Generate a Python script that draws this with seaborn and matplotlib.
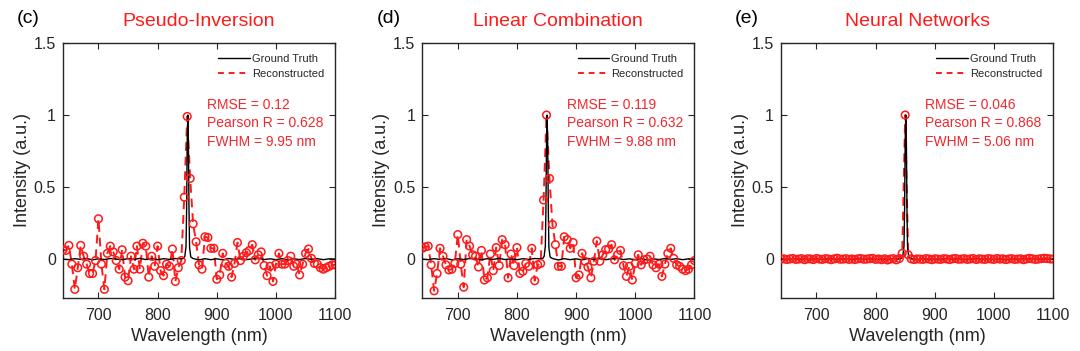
import numpy as np
import pandas as pd
import matplotlib
matplotlib.use('Agg')
import matplotlib.pyplot as plt
import seaborn as sns
from matplotlib.lines import Line2D

sns.set_style('ticks')
plt.rcParams['font.family'] = ['Liberation Sans', 'DejaVu Sans']

# wavelength grid of the reconstructed spectra (nm)
wl = list(range(640, 1101, 5))

# reconstructed spectra
pinv = [0.065, 0.06, 0.095, -0.035, -0.21, -0.06, 0.095, 0.02, -0.035, -0.1,
        -0.1, -0.01, 0.28, -0.035, -0.21, 0.04, 0.09, 0.05, -0.01, -0.07,
        0.065, -0.125, -0.15, 0.02, -0.07, 0.09, -0.07, 0.11, 0.09, -0.125,
        0.02, -0.05, 0.09, -0.08, -0.115, -0.035, -0.05, 0.07, -0.155, -0.06,
        -0.01, 0.43, 0.99, 0.56, 0.245, 0.12, -0.04, -0.07, 0.155, 0.15,
        0.075, 0.075, -0.14, -0.11, 0.04, -0.03, -0.05, -0.125, -0.03, 0.115,
        -0.01, 0.02, 0.045, 0.06, 0.1, -0.005, 0.03, 0.05, -0.045, -0.115,
        -0.05, -0.155, -0.035, 0.04, -0.035, -0.035, -0.01, 0.02, -0.05, -0.035,
        -0.11, -0.035, 0.04, 0.07, 0.005, -0.03, -0.035, -0.06, -0.07, -0.06,
        -0.05, -0.04, -0.04]

lincomb = [0.075, 0.085, 0.09, -0.04, -0.22, -0.1, 0.075, 0.02, -0.04, -0.075,
           -0.07, -0.03, 0.17, -0.035, -0.195, 0.135, 0.09, 0.03, 0.02, -0.055,
           0.06, -0.145, -0.13, 0.035, -0.08, 0.08, -0.045, 0.135, 0.1, -0.13,
           0.035, -0.045, 0.08, -0.1, -0.085, -0.03, -0.05, 0.075, -0.15, -0.04,
           -0.03, 0.41, 1.0, 0.56, 0.24, 0.1, -0.05, -0.05, 0.155, 0.135,
           0.075, 0.115, -0.13, -0.11, 0.04, -0.015, -0.055, -0.13, -0.015, 0.125,
           -0.015, 0.03, 0.065, 0.07, 0.1, -0.005, 0.03, 0.06, -0.045, -0.12,
           -0.05, -0.145, -0.03, 0.03, -0.04, -0.005, 0.0, 0.02, -0.04, -0.06,
           -0.035, -0.12, -0.035, 0.04, 0.075, 0.005, -0.04, -0.05, -0.07, -0.08,
           -0.07, -0.04, -0.01]

neural = [0.0, 0.002, -0.003, 0.001, 0.004, -0.002, 0.0, 0.003, -0.004, 0.002,
          0.001, -0.003, 0.004, 0.0, -0.002, 0.003, 0.001, -0.004, 0.002, 0.006,
          -0.001, 0.0, 0.003, -0.002, 0.001, -0.003, 0.002, 0.004, -0.001, 0.0,
          0.003, 0.005, -0.002, 0.001, -0.004, 0.002, -0.006, 0.0, 0.003, -0.005,
          0.004, 0.04, 1.0, 0.03, 0.002, -0.003, 0.001, 0.0, -0.002, 0.003,
          0.001, -0.004, 0.002, 0.0, -0.002, 0.003, 0.001, -0.003, 0.002, 0.004,
          -0.001, 0.0, 0.003, -0.002, 0.001, 0.004, -0.003, 0.002, 0.0, -0.002,
          0.003, 0.001, -0.002, 0.004, 0.0, 0.002, -0.003, 0.001, 0.003, -0.002,
          0.0, 0.002, -0.004, 0.001, 0.005, 0.002, -0.002, 0.0, 0.003, 0.006,
          0.004, 0.001, 0.0]

# ground truth spectrum
gt_wl = [640, 650, 660, 670, 680, 690, 700, 710, 720, 730, 740, 750, 760, 770,
         780, 790, 800, 810, 820, 830, 840, 844, 846, 848, 849, 850, 851, 852,
         853, 854, 856, 860, 870, 880, 890, 900, 910, 920, 930, 940, 950, 960,
         970, 980, 990, 1000, 1010, 1020, 1030, 1040, 1050, 1060, 1070, 1080,
         1090, 1100]
gt_val = [0.0, -0.004, 0.003, -0.002, 0.004, -0.005, 0.002, -0.003, 0.004, 0.0,
          -0.004, 0.003, -0.002, 0.005, -0.003, 0.002, -0.004, 0.003, -0.002, 0.004,
          0.002, 0.006, 0.02, 0.09, 0.35, 0.82, 1.0, 0.8, 0.35, 0.08,
          0.015, 0.004, -0.006, 0.003, -0.004, 0.002, -0.005, 0.004, -0.002, 0.003,
          -0.004, 0.002, 0.005, -0.003, 0.002, -0.004, 0.003, -0.006, 0.002, -0.003,
          0.004, -0.002, 0.003, -0.004, 0.002, 0.0]

titles = ['Pseudo-Inversion', 'Linear Combination', 'Neural Networks']
letters = ['(c)', '(d)', '(e)']
series = [pinv, lincomb, neural]
stats = [('0.12', '0.628', '9.95'), ('0.119', '0.632', '9.88'), ('0.046', '0.868', '5.06')]

red = '#ff1a1a'
txt_red = '#f0282d'
dark = '#262626'

fig = plt.figure(figsize=(10.8, 3.51), dpi=100)
lefts = [0.0583, 0.391, 0.7231]

gt_df = pd.DataFrame({'wl': gt_wl, 'val': gt_val})

for i in range(3):
    ax = fig.add_axes([lefts[i], 0.151, 0.252, 0.7265])
    df = pd.DataFrame({'wl': wl, 'val': series[i]})

    sns.lineplot(data=gt_df, x='wl', y='val', ax=ax, color='black', lw=1.0,
                 estimator=None, sort=False, zorder=3)
    sns.lineplot(data=df, x='wl', y='val', ax=ax, color=red, lw=1.4,
                 linestyle=(0, (4.5, 3)), estimator=None, sort=False, zorder=2)
    sns.scatterplot(data=df, x='wl', y='val', ax=ax, marker='o', s=30,
                    facecolors='none', edgecolor=red, linewidth=1.1, zorder=4)

    ax.set_xlim(640, 1100)
    ax.set_ylim(-0.27, 1.5)
    ax.set_xticks([700, 800, 900, 1000, 1100])
    ax.set_yticks([0, 0.5, 1, 1.5])
    ax.set_yticklabels(['0', '0.5', '1', '1.5'])
    ax.tick_params(direction='in', length=4, width=0.8, top=True, right=True,
                   labelsize=11.5, colors=dark, labelcolor=dark)
    ax.tick_params(axis='x', pad=7.5)
    ax.tick_params(axis='y', pad=5)
    for sp in ax.spines.values():
        sp.set_visible(True)
        sp.set_color(dark)
        sp.set_linewidth(1.0)

    ax.set_xlabel('Wavelength (nm)', fontsize=13, color=dark, labelpad=3)
    ax.set_ylabel('Intensity (a.u.)', fontsize=13, color=dark, labelpad=2)

    handles = [Line2D([0], [0], color='black', lw=1.0),
               Line2D([0], [0], color=red, lw=1.4, linestyle=(0, (3, 2.5)))]
    ax.legend(handles, ['Ground Truth', 'Reconstructed'], loc='upper right',
              frameon=False, fontsize=8, handlelength=2.8, handletextpad=0.2,
              labelspacing=0.45, borderaxespad=0.6, borderpad=0.4)

    r, p, f = stats[i]
    ax.text(0.53, 0.585, f'RMSE = {r}\nPearson R = {p}\nFWHM = {f} nm',
            transform=ax.transAxes, fontsize=10, color=txt_red,
            ha='left', va='bottom', linespacing=1.4)

    ax.text(0.5, 1.085, titles[i], transform=ax.transAxes, fontsize=14,
            color=red, ha='center', va='center')
    ax.text(-0.168, 1.095, letters[i], transform=ax.transAxes, fontsize=14,
            color='black', ha='left', va='center')

fig.savefig('out.png', dpi=100)
